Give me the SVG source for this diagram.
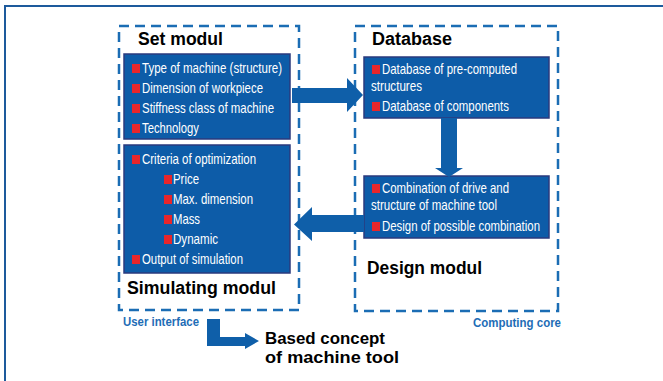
<svg xmlns="http://www.w3.org/2000/svg" width="663" height="381" viewBox="0 0 663 381">
<style>
.frame{fill:none;stroke:#1d5a9c;stroke-width:2}
.dash{fill:none;stroke:#1b6db4;stroke-width:2.5;stroke-dasharray:10 6}
.box{fill:#0d5ca8;stroke:#2a3a7e;stroke-width:1.5}
.arrow{fill:#0f5fa9}
.bul{fill:#e8262b}
.item{font-family:"Liberation Sans",Arial,sans-serif;font-size:14.5px;fill:#ffffff}
.title{font-family:"Liberation Sans",Arial,sans-serif;font-size:17.5px;font-weight:bold;fill:#000000}
.small{font-family:"Liberation Sans",Arial,sans-serif;font-size:12px;font-weight:bold;fill:#1e6db6}
</style>
<rect x="0" y="0" width="663" height="381" fill="#ffffff"/>
<path class="frame" d="M5,400 V6 H700"/>

<g id="user-interface">
  <rect class="dash" x="119" y="26" width="180" height="284"/>
  <text class="small" x="123" y="326" textLength="76" lengthAdjust="spacingAndGlyphs">User interface</text>
</g>
<g id="computing-core">
  <rect class="dash" x="355" y="26" width="203" height="285"/>
  <text class="small" x="473" y="327" textLength="88" lengthAdjust="spacingAndGlyphs">Computing core</text>
</g>

<g id="set-modul">
  <text class="title" x="138" y="45" textLength="85" lengthAdjust="spacingAndGlyphs">Set modul</text>
  <rect class="box" x="124" y="54" width="166" height="85"/>
  <rect class="bul" x="132" y="64" width="8" height="9"/>
  <text class="item" x="142" y="73" textLength="140" lengthAdjust="spacingAndGlyphs">Type of machine (structure)</text>
  <rect class="bul" x="132" y="84" width="8" height="9"/>
  <text class="item" x="142" y="93" textLength="121" lengthAdjust="spacingAndGlyphs">Dimension of workpiece</text>
  <rect class="bul" x="132" y="104" width="8" height="9"/>
  <text class="item" x="142" y="113" textLength="132" lengthAdjust="spacingAndGlyphs">Stiffness class of machine</text>
  <rect class="bul" x="132" y="124" width="8" height="9"/>
  <text class="item" x="142" y="133" textLength="57" lengthAdjust="spacingAndGlyphs">Technology</text>
</g>

<g id="simulating-modul">
  <rect class="box" x="124" y="145" width="166" height="128"/>
  <rect class="bul" x="132" y="155" width="8" height="9"/>
  <text class="item" x="142" y="164" textLength="114" lengthAdjust="spacingAndGlyphs">Criteria of optimization</text>
  <rect class="bul" x="164" y="175" width="8" height="9"/>
  <text class="item" x="173" y="184" textLength="26" lengthAdjust="spacingAndGlyphs">Price</text>
  <rect class="bul" x="164" y="195" width="8" height="9"/>
  <text class="item" x="173" y="204" textLength="80" lengthAdjust="spacingAndGlyphs">Max. dimension</text>
  <rect class="bul" x="164" y="215" width="8" height="9"/>
  <text class="item" x="173" y="224" textLength="27" lengthAdjust="spacingAndGlyphs">Mass</text>
  <rect class="bul" x="164" y="235" width="8" height="9"/>
  <text class="item" x="173" y="244" textLength="45" lengthAdjust="spacingAndGlyphs">Dynamic</text>
  <rect class="bul" x="132" y="255" width="8" height="9"/>
  <text class="item" x="142" y="264" textLength="101" lengthAdjust="spacingAndGlyphs">Output of simulation</text>
  <text class="title" x="127" y="294" textLength="149" lengthAdjust="spacingAndGlyphs">Simulating modul</text>
</g>

<g id="database">
  <text class="title" x="372" y="45" textLength="80" lengthAdjust="spacingAndGlyphs">Database</text>
  <rect class="box" x="364" y="57" width="185" height="61"/>
  <rect class="bul" x="372" y="65" width="8" height="9"/>
  <text class="item" x="382" y="74" textLength="135" lengthAdjust="spacingAndGlyphs">Database of pre-computed</text>
  <text class="item" x="371" y="91" textLength="51" lengthAdjust="spacingAndGlyphs">structures</text>
  <rect class="bul" x="372" y="102" width="8" height="9"/>
  <text class="item" x="382" y="111" textLength="127" lengthAdjust="spacingAndGlyphs">Database of components</text>
</g>

<g id="design-modul">
  <rect class="box" x="364" y="176" width="185" height="62"/>
  <rect class="bul" x="372" y="184" width="8" height="9"/>
  <text class="item" x="382" y="193" textLength="127" lengthAdjust="spacingAndGlyphs">Combination of drive and</text>
  <text class="item" x="371" y="210" textLength="126" lengthAdjust="spacingAndGlyphs">structure of machine tool</text>
  <rect class="bul" x="372" y="222" width="8" height="9"/>
  <text class="item" x="382" y="231" textLength="158" lengthAdjust="spacingAndGlyphs">Design of possible combination</text>
  <text class="title" x="367" y="274" textLength="115" lengthAdjust="spacingAndGlyphs">Design modul</text>
</g>

<g id="result">
  <text class="title" x="265" y="344" style="font-size:17px" textLength="120" lengthAdjust="spacingAndGlyphs">Based concept</text>
  <text class="title" x="265" y="363" style="font-size:17px" textLength="134" lengthAdjust="spacingAndGlyphs">of machine tool</text>
</g>

<g id="connectors">
  <polygon class="arrow" points="292,88 347,88 347,78 363,95 347,112 347,103 292,103"/>
  <polygon class="arrow" points="441,118 457,118 457,168 463,168 449,177 435,168 441,168"/>
  <polygon class="arrow" points="364,215 312,215 312,207 294,224.5 312,241 312,232 364,232"/>
  <polygon class="arrow" points="207,319 220,319 220,337 245,337 245,333 259,341 245,349 245,346 207,346"/>
</g>
</svg>
